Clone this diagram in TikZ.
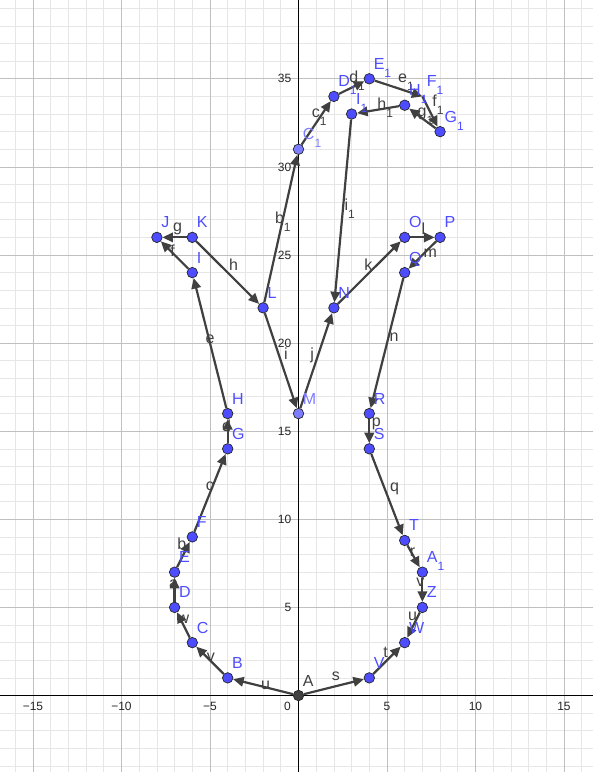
\documentclass[tikz,border=0pt]{standalone}
\usepackage{fontspec}
\setmainfont{Liberation Sans}
\usetikzlibrary{arrows.meta}
\definecolor{ggblue}{RGB}{77,77,255}
\definecolor{gglight}{RGB}{125,125,255}
\definecolor{ggdark}{RGB}{64,64,64}
\definecolor{ggvec}{RGB}{64,64,64}
\definecolor{gridmaj}{RGB}{192,192,192}
\definecolor{gridmin}{RGB}{230,230,230}
\newcommand{\lsub}[2]{#1\raisebox{-8pt}{\fontsize{12}{12}\selectfont #2}}
\newcommand{\ptname}[1]{\makebox[0pt][l]{\smash{#1}}}
\pgfdeclarelayer{back}
\pgfsetlayers{back,main}

\begin{document}
\begin{tikzpicture}[
    x=17.7pt, y=17.62pt,
    >={Triangle[length=10.5pt,width=9.5pt]},
    pt/.style={draw=black!85, fill=ggblue, circle, inner sep=0pt, minimum size=10.5pt, line width=0.7pt},
    ptlight/.style={pt, fill=gglight},
    ptdark/.style={pt, fill=ggdark},
    plab/.style={xshift=4.5pt, yshift=9.5pt, inner sep=0pt, text=ggblue, font=\fontsize{16}{16}\selectfont},
    vec/.style={->, draw=ggvec, line width=2.2pt},
    vlab/.style={inner sep=0pt, text=ggvec, font=\fontsize{16}{16}\selectfont},
    ticklab/.style={inner sep=0pt, text=black!85, font=\fontsize{12}{12}\selectfont}
]
    \useasboundingbox (-298.5pt,-76.5pt) rectangle (294.5pt,695.5pt);

    % Pontos (parte de baixo)
    \node[ptdark, label={[plab, text=ggdark]center:\ptname{A}}] (A) at (0,0) {};
    \node[pt, label={[plab]center:\ptname{B}}] (B) at (-4,1) {};
    \node[pt, label={[plab]center:\ptname{C}}] (C) at (-6,3) {};
    \node[pt, label={[plab]center:\ptname{D}}] (D) at (-7,5) {};
    \node[pt, label={[plab]center:\ptname{E}}] (E) at (-7,7) {};
    \node[pt, label={[plab]center:\ptname{F}}] (F) at (-6,9) {};
    \node[pt, label={[plab]center:\ptname{G}}] (G) at (-4,14) {};
    \node[pt, label={[plab]center:\ptname{H}}] (H) at (-4,16) {};
    \node[pt, label={[plab]center:\ptname{V}}] (V) at (4,1) {};
    \node[pt, label={[plab]center:\ptname{W}}] (W) at (6,3) {};
    \node[pt, label={[plab]center:\ptname{Z}}] (Z) at (7,5) {};
    \node[pt, label={[plab]center:\ptname{\lsub{A}{1}}}] (A1) at (7,7) {};
    \node[pt, label={[plab]center:\ptname{T}}] (T) at (6,8.8) {};
    \node[pt, label={[plab]center:\ptname{S}}] (S) at (4,14) {};
    \node[pt, label={[plab]center:\ptname{R}}] (R) at (4,16) {};

    % Pontos (folhas)
    \node[pt, label={[plab]center:\ptname{I}}] (I) at (-6,24) {};
    \node[pt, label={[plab]center:\ptname{J}}] (J) at (-8,26) {};
    \node[pt, label={[plab]center:\ptname{K}}] (K) at (-6,26) {};
    \node[pt, label={[plab]center:\ptname{L}}] (L) at (-2,22) {};
    \node[ptlight, label={[plab, text=gglight]center:\ptname{M}}] (M) at (0,16) {};
    \node[pt, label={[plab]center:\ptname{N}}] (N) at (2,22) {};
    \node[pt, label={[plab]center:\ptname{O}}] (O) at (6,26) {};
    \node[pt, label={[plab]center:\ptname{P}}] (P) at (8,26) {};
    \node[pt, label={[plab]center:\ptname{Q}}] (Q) at (6,24) {};

    % Pontos (flor)
    \node[ptlight, label={[plab, text=gglight]center:\ptname{\lsub{C}{1}}}] (C1) at (0,31) {};
    \node[pt, label={[plab]center:\ptname{\lsub{D}{1}}}] (D1) at (2,34) {};
    \node[pt, label={[plab]center:\ptname{\lsub{E}{1}}}] (E1) at (4,35) {};
    \node[coordinate, label={[plab]center:\ptname{\lsub{F}{1}}}] (F1) at (7,34) {};
    \node[pt, label={[plab]center:\ptname{\lsub{G}{1}}}] (G1) at (8,32) {};
    \node[pt, label={[plab]center:\ptname{\lsub{H}{1}}}] (H1) at (6,33.5) {};
    \node[pt, label={[plab]center:\ptname{\lsub{I}{1}}}] (I1) at (3,33) {};

    \begin{pgfonlayer}{back}
    % Malha e eixos
    \draw[gridmin, line width=0.6pt, step=1] (-298.5pt,-76.5pt) grid (294.5pt,695.5pt);
    \draw[gridmaj, line width=0.6pt, step=5] (-298.5pt,-76.5pt) grid (294.5pt,695.5pt);
    \draw[black, line width=0.9pt] (-298.5pt,0) -- (294.5pt,0);
    \draw[black, line width=0.9pt] (0,-76.5pt) -- (0,695.5pt);
    \foreach \tx/\tl [count=\ti] in {-15/−15, -10/−10, -5/−5, 5/5, 10/10, 15/15}
        \node[ticklab, anchor=north] (xt\ti) at ([yshift=-6.5pt]\tx,0) {\tl};
    \node[ticklab, anchor=north east] (xt0) at ([xshift=-7.5pt, yshift=-6.5pt]0,0) {0};
    \foreach \ty [count=\ti] in {5,10,...,35}
        \node[ticklab, anchor=east] (yt\ti) at ([xshift=-7pt]0,\ty) {\ty};

    % Vetores do vaso
    \draw[vec] (A) -- node[vlab, xshift=2.5pt, yshift=1.3pt] (lu) {u} (B);
    \draw[vec] (B) -- node[vlab, xshift=1pt, yshift=2.5pt] (lv) {v} (C);
    \draw[vec] (C) -- node[vlab, xshift=0pt, yshift=5.5pt] (lw) {w} (D);
    \draw[vec] (D) -- node[vlab, xshift=-1pt, yshift=5.5pt] (la) {a} (E);
    \draw[vec] (E) -- node[vlab, xshift=-1.5pt, yshift=11pt] (lb) {b} (F);
    \draw[vec] (F) -- node[vlab, xshift=0pt, yshift=7pt] (lc) {c} (G);
    \draw[vec] (G) -- node[vlab, xshift=-1pt, yshift=5.5pt] (ld) {d} (H);
    \draw[vec] (H) -- node[vlab, xshift=0pt, yshift=4pt] (le) {e} (I);
    \draw[vec] (I) -- node[vlab, xshift=-2pt, yshift=4pt] (lf) {f} (J);
    \draw[vec] (K) -- node[vlab, xshift=3pt, yshift=8.5pt] (lg) {g} (J);
    \draw[vec] (K) -- node[vlab, xshift=6pt, yshift=8pt] (lh) {h} (L);
    \draw[vec] (L) -- node[vlab, xshift=5pt, yshift=7pt] (li) {i} (M);
    \draw[vec] (M) -- node[vlab, xshift=-4pt, yshift=5pt] (lj) {j} (N);
    \draw[vec] (N) -- node[vlab, xshift=-1pt, yshift=8pt] (lk) {k} (O);
    \draw[vec] (O) -- node[vlab, xshift=1pt, yshift=8.5pt] (ll) {l} (P);
    \draw[vec] (P) -- node[vlab, xshift=8pt, yshift=2pt] (lm) {m} (Q);
    \draw[vec] (Q) -- node[vlab, xshift=7pt, yshift=5.5pt] (ln) {n} (R);
    \draw[vec] (R) -- node[vlab, xshift=7pt, yshift=7.5pt] (lp) {p} (S);
    \draw[vec] (S) -- node[vlab, xshift=7.5pt, yshift=6pt] (lq) {q} (T);
    \draw[vec] (T) -- node[vlab, xshift=-1pt, yshift=4pt] (lr) {r} (A1);
    \draw[vec] (A1) -- node[vlab, xshift=-2pt, yshift=7.5pt] (lv2) {v} (Z);
    \draw[vec] (Z) -- node[vlab, xshift=-1pt, yshift=9pt] (lu2) {u} (W);
    \draw[vec] (A) -- node[vlab, xshift=2pt, yshift=10.5pt] (ls) {s} (V);
    \draw[vec] (V) -- node[vlab, xshift=-1.5pt, yshift=8pt] (lt) {t} (W);

    % Vetores da flor
    \draw[vec] (L) -- node[vlab, xshift=2pt, yshift=6.5pt] (lb1) {\lsub{b}{1}} (C1);
    \draw[vec] (C1) -- node[vlab, xshift=3pt, yshift=6pt] (lc1) {\lsub{c}{1}} (D1);
    \draw[vec] (D1) -- node[vlab, xshift=5.5pt, yshift=6.5pt] (ld1) {\lsub{d}{1}} (E1);
    \draw[vec] (E1) -- node[vlab, xshift=7.5pt, yshift=6.5pt] (le1) {\lsub{e}{1}} (F1);
    \draw[vec] (F1) -- node[vlab, xshift=8pt, yshift=7pt] (lf1) {\lsub{f}{1}} (G1);
    \draw[vec] (G1) -- node[vlab, xshift=3pt, yshift=2.5pt] (lg1) {\lsub{g}{1}} (H1);
    \draw[vec] (H1) -- node[vlab, xshift=7pt, yshift=1.5pt] (lh1) {\lsub{h}{1}} (I1);
    \draw[vec] (I1) -- node[vlab, xshift=7pt, yshift=2pt] (li1) {\lsub{i}{1}} (N);
    \end{pgfonlayer}
\end{tikzpicture}
\end{document}
